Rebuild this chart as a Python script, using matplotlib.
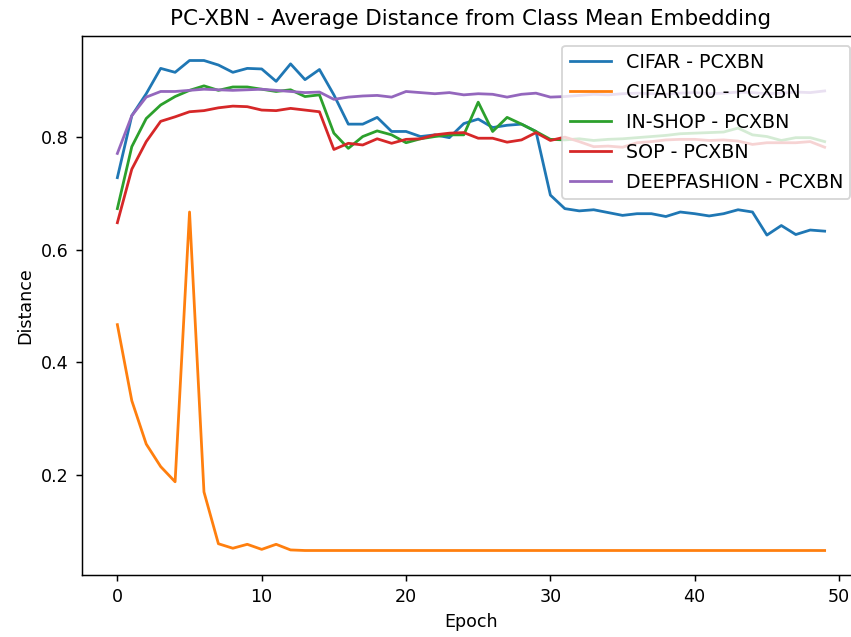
import numpy as np
import matplotlib.pyplot as plt

epochs = np.arange(50)

cifar = [0.728, 0.838, 0.877, 0.922, 0.915, 0.936, 0.936, 0.928, 0.915, 0.922,
         0.921, 0.899, 0.930, 0.902, 0.920, 0.875, 0.823, 0.823, 0.835, 0.810,
         0.810, 0.801, 0.804, 0.799, 0.824, 0.832, 0.817, 0.821, 0.823, 0.810,
         0.697, 0.673, 0.669, 0.671, 0.666, 0.661, 0.664, 0.664, 0.659, 0.667,
         0.664, 0.660, 0.664, 0.671, 0.667, 0.626, 0.643, 0.627, 0.635, 0.633]

cifar100 = [0.467, 0.332, 0.255, 0.215, 0.188, 0.667, 0.170, 0.078, 0.070, 0.077,
            0.068, 0.077, 0.067] + [0.066] * 37

inshop = [0.673, 0.783, 0.833, 0.857, 0.872, 0.883, 0.891, 0.883, 0.889, 0.889,
          0.885, 0.881, 0.884, 0.872, 0.875, 0.807, 0.780, 0.801, 0.811, 0.804,
          0.790, 0.797, 0.801, 0.804, 0.804, 0.862, 0.810, 0.835, 0.823, 0.810,
          0.796, 0.795, 0.797, 0.794, 0.796, 0.797, 0.799, 0.801, 0.803, 0.806,
          0.807, 0.808, 0.809, 0.816, 0.804, 0.801, 0.794, 0.799, 0.799, 0.792]

sop = [0.648, 0.743, 0.792, 0.828, 0.836, 0.845, 0.847, 0.852, 0.855, 0.854,
       0.848, 0.847, 0.851, 0.848, 0.845, 0.778, 0.789, 0.786, 0.797, 0.789,
       0.796, 0.797, 0.804, 0.807, 0.808, 0.798, 0.798, 0.791, 0.795, 0.808,
       0.794, 0.800, 0.792, 0.783, 0.784, 0.782, 0.790, 0.792, 0.795, 0.796,
       0.796, 0.794, 0.795, 0.793, 0.787, 0.790, 0.790, 0.790, 0.792, 0.782]

deepfashion = [0.771, 0.838, 0.871, 0.881, 0.881, 0.883, 0.885, 0.884, 0.883, 0.884,
               0.885, 0.883, 0.881, 0.879, 0.880, 0.867, 0.871, 0.873, 0.874, 0.871,
               0.881, 0.879, 0.877, 0.879, 0.875, 0.877, 0.876, 0.871, 0.876, 0.878,
               0.871, 0.872, 0.874, 0.876, 0.875, 0.877, 0.878, 0.877, 0.876, 0.878,
               0.879, 0.877, 0.878, 0.880, 0.879, 0.877, 0.878, 0.880, 0.879, 0.882]

labels = ["CIFAR - PCXBN", "CIFAR100 - PCXBN", "IN-SHOP - PCXBN",
          "SOP - PCXBN", "DEEPFASHION - PCXBN"]


def main():
    dpi = 133
    plt.rcParams["font.size"] = 9.5
    fig = plt.figure(figsize=(851 / dpi, 637 / dpi), dpi=dpi)
    # axes placed in pixels; the right edge runs slightly past the canvas
    ax = fig.add_axes([82 / 851, 62 / 637, 778 / 851, 539 / 637])

    for series, label in zip([cifar, cifar100, inshop, sop, deepfashion], labels):
        ax.plot(epochs, series, label=label)

    ax.set_title("PC-XBN - Average Distance from Class Mean Embedding", fontsize=11.6)
    ax.set_xlabel("Epoch")
    ax.set_ylabel("Distance")
    ax.legend(loc="upper right", fontsize=10.3, labelspacing=0.57,
              handlelength=2.15, handletextpad=0.77)

    fig.savefig("out.png", dpi=dpi)


main()
